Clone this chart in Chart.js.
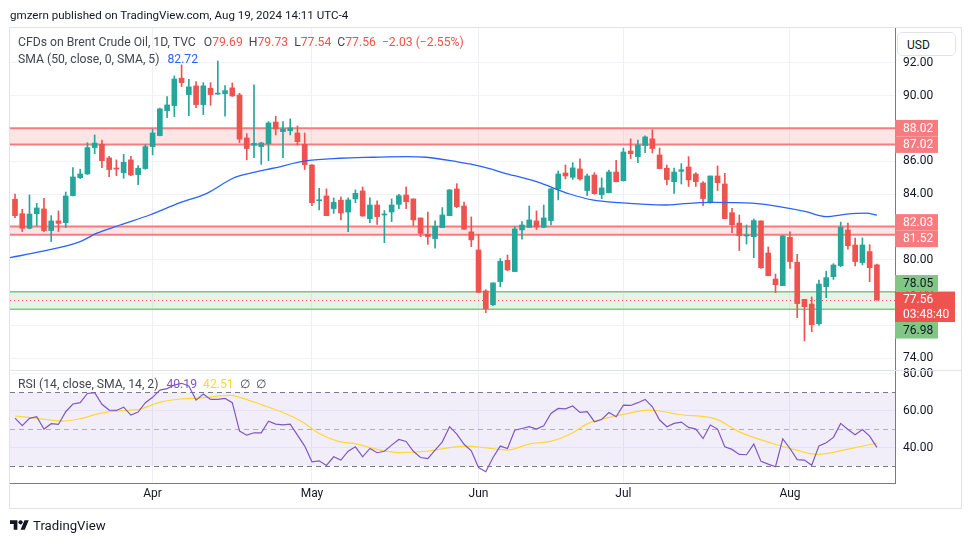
<!DOCTYPE html>
<html>
<head>
<meta charset="utf-8">
<script src="https://cdn.jsdelivr.net/npm/chart.js@4.4.1/dist/chart.umd.min.js"></script>
<style>
  html, body { margin: 0; padding: 0; background: #fff; }
  #wrap { position: relative; width: 970px; height: 545px; overflow: hidden; font-family: Roboto, sans-serif; }
  #chart { position: absolute; left: 0; top: 0; }
  .t { position: absolute; white-space: nowrap; line-height: 16px; }
  .g { color: #434651; font-size: 12.2px; }
  .dn { color: #ef5350; }
  .gap { margin-left: 6px; }
  #usd { position: absolute; left: 897px; top: 32px; width: 59px; height: 24px; border: 1px solid #e0e3eb; border-radius: 5px;
         font-size: 12px; color: #131722; line-height: 24px; box-sizing: border-box; padding-left: 9px; background: #fff; }
</style>
</head>
<body>
<div id="wrap">
  <canvas id="chart" width="970" height="545"></canvas>
  <div class="t" style="left:10px;top:7px;font-size:11.6px;color:#131722">gmzern published on TradingView.com, Aug 19, 2024 14:11 UTC-4</div>
  <div class="t g" style="left:18px;top:34px">CFDs on Brent Crude Oil, 1D, TVC<span style="margin-left:8px">O</span><span class="dn">79.69</span><span class="gap">H</span><span class="dn">79.73</span><span class="gap">L</span><span class="dn">77.54</span><span class="gap">C</span><span class="dn">77.56</span><span class="dn gap">−2.03 (−2.55%)</span></div>
  <div class="t g" style="left:18px;top:51px">SMA (50, close, 0, SMA, 5)<span style="margin-left:8px;color:#2962ff">82.72</span></div>
  <div class="t g" style="left:18px;top:376px">RSI (14, close, SMA, 14, 2)<span style="margin-left:8px;color:#7e57c2">40.19</span><span class="gap" style="color:#fdd835">42.51</span><span class="gap">∅</span><span class="gap">∅</span></div>
  <div id="usd">USD</div>
  <svg style="position:absolute;left:10px;top:518px" width="19" height="15" viewBox="0 0 36 28">
    <path d="M14 22H7V11H0V4h14v18zM28 22h-8l7.5-18h8L28 22z" fill="#131722"/>
    <circle cx="20" cy="8" r="4" fill="#131722"/>
  </svg>
  <div class="t" style="left:33px;top:518px;font-size:13.2px;color:#131722">TradingView</div>
</div>
<script>
// trading days (Brent CFD, daily)
const dates = [
  '2024-03-05','2024-03-06','2024-03-07','2024-03-08','2024-03-11','2024-03-12','2024-03-13','2024-03-14','2024-03-15','2024-03-18',
  '2024-03-19','2024-03-20','2024-03-21','2024-03-22','2024-03-25','2024-03-26','2024-03-27','2024-03-28','2024-03-29',
  '2024-04-01','2024-04-02','2024-04-03','2024-04-04','2024-04-05','2024-04-08','2024-04-09','2024-04-10','2024-04-11','2024-04-12',
  '2024-04-15','2024-04-16','2024-04-17','2024-04-18','2024-04-19','2024-04-22','2024-04-23','2024-04-24','2024-04-25','2024-04-26',
  '2024-04-29','2024-04-30',
  '2024-05-01','2024-05-02','2024-05-03','2024-05-06','2024-05-07','2024-05-08','2024-05-09','2024-05-10','2024-05-13','2024-05-14',
  '2024-05-15','2024-05-16','2024-05-17','2024-05-20','2024-05-21','2024-05-22','2024-05-23','2024-05-24','2024-05-27','2024-05-28',
  '2024-05-29','2024-05-30','2024-05-31',
  '2024-06-03','2024-06-04','2024-06-05','2024-06-06','2024-06-07','2024-06-10','2024-06-11','2024-06-12','2024-06-13','2024-06-14',
  '2024-06-17','2024-06-18','2024-06-19','2024-06-20','2024-06-21','2024-06-24','2024-06-25','2024-06-26','2024-06-27','2024-06-28',
  '2024-07-01','2024-07-02','2024-07-03','2024-07-04','2024-07-05','2024-07-08','2024-07-09','2024-07-10','2024-07-11','2024-07-12',
  '2024-07-15','2024-07-16','2024-07-17','2024-07-18','2024-07-19','2024-07-22','2024-07-23','2024-07-24','2024-07-25','2024-07-26',
  '2024-07-29','2024-07-30','2024-07-31',
  '2024-08-01','2024-08-02','2024-08-05','2024-08-06','2024-08-07','2024-08-08','2024-08-09','2024-08-12','2024-08-13','2024-08-14',
  '2024-08-15','2024-08-16','2024-08-19'
];

const opens = [
  83.69,82.81,81.92,82.81,83.10,81.78,82.37,82.26,83.91,85.00,85.23,86.84,87.04,86.21,85.58,85.31,86.09,85.19,85.56,
  86.90,87.57,89.09,89.40,91.07,90.07,90.60,89.46,90.46,90.10,90.13,90.48,90.05,87.43,86.98,86.90,87.08,88.40,87.81,87.87,87.73,87.04,
  85.78,83.60,83.89,83.12,83.63,82.91,83.71,84.20,82.51,83.34,82.73,82.91,83.38,83.95,83.71,82.55,81.55,81.29,81.96,82.69,84.32,83.28,81.70,
  80.60,78.10,77.26,78.67,79.97,79.28,81.82,81.98,82.37,81.98,82.39,84.32,85.29,85.03,85.54,84.22,85.17,83.97,84.09,85.35,
  84.82,86.63,86.29,86.96,87.37,86.39,85.58,84.76,85.39,85.66,85.23,84.68,83.50,85.11,84.62,82.87,82.24,81.45,81.41,82.37,80.41,78.83,78.42,
  81.37,79.85,77.59,77.30,76.10,78.36,78.97,79.64,81.82,80.90,79.83,80.50,79.69
];
const highs = [
  84.01,83.08,83.95,83.44,83.75,82.69,82.98,84.13,85.62,85.52,87.14,87.61,87.30,86.30,86.09,86.43,86.30,85.74,87.02,
  87.96,89.25,89.95,91.21,91.88,91.00,90.86,90.80,90.80,92.12,90.62,90.78,90.15,87.69,90.66,87.16,88.42,88.75,88.42,88.59,88.16,87.73,
  85.80,84.36,84.32,83.77,83.83,83.77,84.26,84.44,83.77,83.59,83.00,83.71,83.99,84.44,83.71,82.55,82.91,82.37,83.18,84.28,84.64,83.52,82.61,
  81.55,78.18,78.60,80.07,80.29,82.02,82.33,83.28,82.98,83.34,84.34,85.41,85.78,85.92,86.15,85.23,85.31,84.99,85.47,86.07,
  86.81,87.37,87.30,87.55,87.93,86.81,85.78,85.59,85.86,86.29,85.31,84.76,85.11,85.72,85.27,83.14,82.73,82.12,82.49,82.37,80.78,79.13,81.49,
  81.70,80.33,77.59,77.73,78.76,79.30,79.76,82.30,82.24,81.33,81.33,80.92,79.73
];
const lows = [
  82.57,81.72,81.88,82.08,81.72,81.11,81.72,81.96,83.90,84.95,85.20,86.47,85.62,85.07,85.13,84.97,85.13,84.58,85.52,
  86.39,87.55,88.67,88.73,90.56,88.79,89.28,88.85,89.42,90.08,88.75,89.95,87.14,86.09,86.23,85.82,86.04,87.61,86.23,87.61,87.00,85.50,
  83.30,83.04,82.68,82.83,82.43,81.72,83.48,82.65,82.26,82.16,81.04,82.33,83.12,83.12,82.08,81.41,80.94,80.70,81.96,82.68,83.18,81.85,80.80,
  78.00,76.78,77.20,78.36,79.34,79.28,81.25,81.96,81.85,81.95,82.12,83.65,84.93,84.90,84.85,83.91,83.99,83.73,84.07,84.74,
  84.80,86.17,85.92,86.53,86.51,85.55,84.56,84.05,84.62,84.47,84.47,83.30,83.45,84.22,82.50,81.65,80.56,80.96,80.13,79.48,79.02,78.00,78.42,
  79.48,76.47,75.05,75.62,76.00,77.69,78.80,79.58,80.64,79.63,79.69,78.67,77.54
];
const closes = [
  82.69,81.92,82.79,83.16,81.78,82.37,82.22,83.89,85.05,85.23,86.84,87.12,86.04,85.50,85.53,85.94,85.17,85.58,86.90,
  87.73,89.20,89.44,91.02,90.80,90.54,89.46,90.60,90.07,90.12,90.31,89.99,87.35,86.78,87.10,87.12,88.34,87.98,87.98,88.04,87.20,85.80,
  83.48,83.63,82.69,83.50,82.85,83.65,84.05,82.67,83.34,82.63,82.77,83.34,83.91,83.54,82.43,81.61,81.41,82.04,82.73,84.26,83.24,81.86,81.21,
  78.02,77.02,78.59,79.91,79.38,81.88,82.12,82.43,82.00,82.55,84.32,85.23,85.11,85.60,84.93,85.11,84.03,84.38,85.35,84.76,
  86.57,86.47,87.00,87.49,86.78,85.56,84.89,85.35,85.49,84.87,84.76,83.73,85.11,84.70,82.51,82.14,81.47,81.47,82.39,79.52,79.03,78.48,81.45,
  79.89,77.33,77.14,76.04,78.52,78.91,79.68,81.98,80.86,79.89,80.90,79.52,77.56
];

// SMA(50): bar position -> value
const smaAt = [-0.7, 3.5, 9, 11.3, 14.5, 18.6, 22.8, 26.5, 30.1, 32.4, 35.6, 40.3, 44.8, 49.4, 54.1, 56.8, 61, 62.8, 65.5, 67.3,
  72, 76.6, 79.7, 83.4, 89.9, 94.5, 96.3, 101.8, 105.5, 109.2, 112, 114.8, 117.5, 119];
const smaValues = [80.13, 80.49, 81.10, 81.62, 82.12, 82.73, 83.48, 84.05, 84.97, 85.27, 85.58, 86.04, 86.19, 86.25, 86.29, 86.25,
  85.98, 85.84, 85.55, 85.32, 84.76, 84.01, 83.65, 83.48, 83.34, 83.49, 83.50, 83.45, 83.24, 82.93, 82.63, 82.78, 82.84, 82.72];

// RSI(14), one value per bar
const rsiValues = [
  56.0,51.9,55.9,56.8,50.1,53.0,52.6,59.5,63.7,64.4,69.4,69.8,63.5,60.4,60.2,62.0,57.7,59.3,64.4,
  67.3,71.2,72.0,74.0,74.9,73.4,65.8,69.1,66.2,66.2,66.7,64.4,49.0,46.8,48.1,48.1,54.4,52.8,52.4,52.8,46.8,40.9,
  32.4,32.9,30.4,35.1,33.3,38.1,40.5,35.1,39.6,37.3,38.1,41.4,44.5,43.4,38.1,34.7,34.1,38.7,43.2,51.4,47.4,41.9,38.3,
  29.3,27.0,34.7,40.9,39.6,49.5,50.4,51.4,50.1,51.9,58.6,61.3,61.1,62.6,59.1,59.5,54.1,55.3,59.1,56.8,
  63.1,62.9,64.4,66.2,62.2,55.0,51.4,53.2,53.9,51.0,50.1,45.0,52.3,50.1,40.5,39.1,36.4,36.2,42.0,32.6,31.1,29.7,44.8,
  39.6,33.6,33.3,30.5,41.0,42.7,45.6,53.2,49.9,47.0,49.9,46.3,40.19
];
// RSI smoothing (SMA 14)
const rsiMaAt = [0, 2.5, 6.6, 9, 11.7, 14.5, 17.2, 20, 22.8, 25.5, 29.7, 31, 34.2, 37, 39.7, 42, 44.4, 47.2, 50, 53.1, 56.8, 60,
  62.3, 65.1, 66.9, 67.9, 71, 74.2, 77, 78.9, 82.5, 85.2, 87.2, 89, 91.7, 96.8, 100, 104.6, 107.9, 110.6, 112.8, 115.2, 119];
const rsiMaValues = [57.2, 56.2, 54.4, 55.7, 58.6, 60.0, 60.9, 64.6, 66.4, 66.9, 68.4, 67.3, 63.1, 59.1, 53.9, 47.7, 43.7, 42.0, 39.1,
  37.3, 38.1, 40.1, 40.9, 39.9, 39.1, 38.7, 42.0, 43.7, 48.1, 52.8, 56.8, 59.0, 60.4, 59.9, 58.0, 55.5, 48.6, 42.3, 38.7, 36.4, 37.4, 39.4, 42.51];

// drawn zones (resistance / support)
const zoneTops = [88.02, 82.03, 78.05];
const zoneBottoms = [87.02, 81.52, 76.98];
const zoneKinds = ['res', 'res', 'sup'];
const countdown = '03:48:40';

const priceTicks = [74, 76, 78, 80, 82, 84, 86, 88, 90, 92];
const rsiTicks = [40, 60, 80];
const rsiBands = [70, 50, 30];
const monthNames = ['Jan','Feb','Mar','Apr','May','Jun','Jul','Aug','Sep','Oct','Nov','Dec'];

const UP = '#26a69a', DOWN = '#ef5350';
const FONT = 'Roboto, sans-serif';

const monthStarts = [];
dates.forEach((d, i) => { if (i > 0 && d.slice(5, 7) !== dates[i - 1].slice(5, 7)) monthStarts.push(i); });

const candleColors = closes.map((c, i) => c >= opens[i] ? UP : DOWN);
const lastPrice = closes[closes.length - 1];

const panesPlugin = {
  id: 'panes',
  beforeDatasetsDraw(chart) {
    const { ctx, chartArea: a, scales } = chart;
    const y = scales.y, r = scales.rsi;
    ctx.save();
    // rsi band
    ctx.fillStyle = 'rgba(126,87,194,0.1)';
    const b70 = r.getPixelForValue(rsiBands[0]), b30 = r.getPixelForValue(rsiBands[2]);
    ctx.fillRect(a.left, b70, a.right - a.left, b30 - b70);
    rsiBands.forEach((v, k) => {
      const py = Math.round(r.getPixelForValue(v)) + 0.5;
      ctx.strokeStyle = k === 1 ? 'rgba(120,123,134,0.55)' : '#787b86';
      ctx.lineWidth = 1;
      ctx.setLineDash([5, 4]);
      ctx.beginPath(); ctx.moveTo(a.left, py); ctx.lineTo(a.right, py); ctx.stroke();
    });
    ctx.setLineDash([]);
    // zones
    zoneTops.forEach((top, k) => {
      const t = y.getPixelForValue(top), bt = y.getPixelForValue(zoneBottoms[k]);
      const res = zoneKinds[k] === 'res';
      ctx.fillStyle = res ? 'rgba(247,124,128,0.2)' : 'rgba(129,199,132,0.2)';
      ctx.fillRect(a.left, t, a.right - a.left, bt - t);
      ctx.strokeStyle = res ? '#f77c80' : '#81c784';
      ctx.lineWidth = res ? 2 : 1.5;
      [t, bt].forEach(py => { ctx.beginPath(); ctx.moveTo(a.left, py); ctx.lineTo(a.right, py); ctx.stroke(); });
    });
    // last price dotted line
    const lp = Math.round(y.getPixelForValue(lastPrice)) + 0.5;
    ctx.strokeStyle = DOWN; ctx.lineWidth = 1; ctx.setLineDash([1, 3]);
    ctx.beginPath(); ctx.moveTo(a.left, lp); ctx.lineTo(a.right, lp); ctx.stroke();
    ctx.setLineDash([]);
    // pane separator
    const sep = Math.round(r.top) + 0.5;
    ctx.strokeStyle = '#e0e3eb';
    ctx.beginPath(); ctx.moveTo(a.left, sep); ctx.lineTo(a.right + 66, sep); ctx.stroke();
    ctx.restore();
  },
  afterDraw(chart) {
    const { ctx, chartArea: a, scales } = chart;
    const y = scales.y;
    ctx.save();
    // outer frame
    ctx.strokeStyle = '#e0e3eb'; ctx.lineWidth = 1;
    ctx.strokeRect(9.5, 27.5, 952, 481);
    // price labels on the axis
    const items = [];
    zoneTops.forEach((v, k) => {
      items.push({ v, kind: zoneKinds[k] });
      items.push({ v: zoneBottoms[k], kind: zoneKinds[k] });
    });
    items.push({ v: lastPrice, kind: 'last', fixed: true });
    items.forEach(it => {
      const cy = y.getPixelForValue(it.v);
      it.h = it.kind === 'last' ? 30.5 : 16.5;
      it.top = it.kind === 'last' ? cy - 8.25 : cy - it.h / 2;
    });
    items.sort((p, q) => p.top - q.top);
    for (let n = 0; n < 30; n++) {
      for (let k = 0; k < items.length - 1; k++) {
        const p = items[k], q = items[k + 1];
        const ov = p.top + p.h - q.top;
        if (ov > 0.01) {
          if (p.fixed) q.top += ov;
          else if (q.fixed) p.top -= ov;
          else { p.top -= ov / 2; q.top += ov / 2; }
        }
      }
    }
    ctx.font = '12px ' + FONT;
    ctx.textBaseline = 'middle';
    ctx.textAlign = 'left';
    items.forEach(it => {
      const x0 = a.right;
      if (it.kind === 'last') {
        ctx.fillStyle = DOWN;
        ctx.fillRect(x0, it.top, 60, it.h);
        ctx.fillStyle = '#ffffff';
        ctx.fillText(it.v.toFixed(2), x0 + 8, it.top + 8.5);
        ctx.fillText(countdown, x0 + 8, it.top + 23);
      } else {
        ctx.fillStyle = it.kind === 'res' ? '#f77c80' : '#81c784';
        ctx.fillRect(x0, it.top, 43, it.h);
        ctx.fillStyle = it.kind === 'res' ? '#ffffff' : '#131722';
        ctx.fillText(it.v.toFixed(2), x0 + 8, it.top + it.h / 2 + 0.5);
      }
    });
    ctx.restore();
  }
};

const idx = dates.map((d, i) => i);

new Chart(document.getElementById('chart'), {
  data: {
    datasets: [
      {
        type: 'bar', label: 'wick', yAxisID: 'y', order: 4, grouped: false,
        data: idx.map(i => ({ x: i, y: [lows[i], highs[i]] })),
        backgroundColor: candleColors, barThickness: 1, borderWidth: 0, minBarLength: 1
      },
      {
        type: 'bar', label: 'body', yAxisID: 'y', order: 3, grouped: false,
        data: idx.map(i => ({ x: i, y: [opens[i], closes[i]] })),
        backgroundColor: candleColors, barThickness: 5, borderWidth: 0, minBarLength: 1
      },
      {
        type: 'line', label: 'SMA', yAxisID: 'y', order: 1,
        data: smaAt.map((p, k) => ({ x: p, y: smaValues[k] })),
        borderColor: '#2962ff', borderWidth: 1.3, pointRadius: 0, cubicInterpolationMode: 'monotone'
      },
      {
        type: 'line', label: 'RSI', yAxisID: 'rsi', order: 1,
        data: idx.map(i => ({ x: i, y: rsiValues[i] })),
        borderColor: '#7e57c2', borderWidth: 1.2, pointRadius: 0, tension: 0
      },
      {
        type: 'line', label: 'RSI MA', yAxisID: 'rsi', order: 2,
        data: rsiMaAt.map((p, k) => ({ x: p, y: rsiMaValues[k] })),
        borderColor: '#fdd835', borderWidth: 1.2, pointRadius: 0, cubicInterpolationMode: 'monotone'
      }
    ]
  },
  options: {
    responsive: false, animation: false, events: [],
    layout: { padding: { left: 10, top: 28, right: 9, bottom: 37 } },
    plugins: { legend: { display: false }, tooltip: { enabled: false } },
    scales: {
      x: {
        type: 'linear', position: 'bottom', min: -0.69, max: 121.5, offset: false,
        afterBuildTicks: s => { s.ticks = monthStarts.map(v => ({ value: v })); },
        afterFit: s => { s.height = 25; },
        grid: { color: '#eef0f5', drawTicks: false, offset: false },
        border: { color: '#787b86' },
        ticks: {
          autoSkip: false, maxRotation: 0, padding: 4, color: '#131722', font: { family: FONT, size: 12 },
          callback: v => monthNames[parseInt(dates[v].slice(5, 7), 10) - 1]
        }
      },
      y: {
        type: 'linear', position: 'right', stack: 'pane', stackWeight: 342, min: 73.28, max: 94.13,
        afterBuildTicks: s => { s.ticks = priceTicks.map(v => ({ value: v })); },
        afterFit: s => { s.width = 66; },
        grid: { color: '#f0f3fa', drawTicks: false },
        border: { color: '#787b86' },
        ticks: { padding: 8, color: '#131722', font: { family: FONT, size: 12 }, callback: v => v.toFixed(2) }
      },
      rsi: {
        type: 'linear', position: 'right', stack: 'pane', stackWeight: 113, min: 20.9, max: 82.1,
        afterBuildTicks: s => { s.ticks = rsiTicks.map(v => ({ value: v })); },
        afterFit: s => { s.width = 66; },
        grid: { color: '#f0f3fa', drawTicks: false },
        border: { color: '#787b86' },
        ticks: { padding: 8, color: '#131722', font: { family: FONT, size: 12 }, callback: v => v.toFixed(2) }
      }
    }
  },
  plugins: [panesPlugin]
});
</script>
</body>
</html>
